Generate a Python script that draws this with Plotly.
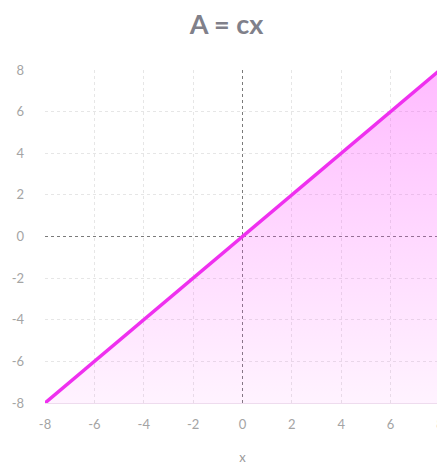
import plotly.graph_objects as go

# A = c * x, with c = 1
x_vals = [-8, 8]
a_vals = [-8, 8]
base_vals = [-8, -8]
tick_vals = [-8, -6, -4, -2, 0, 2, 4, 6, 8]
tick_text = ['-8', '-6', '-4', '-2', '0', '2', '4', '6', '8']

fig = go.Figure()

# dotted lines through the origin, drawn as traces so they sit under the curve
fig.add_trace(go.Scatter(x=[0, 0], y=x_vals, mode='lines', hoverinfo='skip',
                         line=dict(color='#7a7a7a', width=1, dash='dot'), showlegend=False))
fig.add_trace(go.Scatter(x=x_vals, y=[0, 0], mode='lines', hoverinfo='skip',
                         line=dict(color='#7a7a7a', width=1, dash='dot'), showlegend=False))

# invisible bottom edge so the shading stops at the axis floor
fig.add_trace(go.Scatter(x=x_vals, y=base_vals, mode='lines',
                         line=dict(width=0), hoverinfo='skip', showlegend=False))

fig.add_trace(go.Scatter(
    x=x_vals, y=a_vals, mode='lines', name='A',
    line=dict(color='#ef30ef', width=3.5),
    fill='tonexty',
    fillgradient=dict(type='vertical',
                      colorscale=[[0, 'rgba(255,80,255,0.07)'], [1, 'rgba(255,60,255,0.35)']]),
    showlegend=False,
))

# page body has an 8px margin, so the figure is shrunk by that much
fig.update_layout(
    width=437, height=459,
    margin=dict(l=37, r=5, t=62, b=64),
    title=dict(text='<b>A = cx</b>', x=0.5, xanchor='center',
               yref='container', y=0.963, yanchor='middle',
               font=dict(family='Lato', size=27, color='#80808a')),
    plot_bgcolor='white',
    paper_bgcolor='white',
    font=dict(family='Lato', color='#a4a4a4', size=13),
)

fig.update_xaxes(
    range=[-8, 8], tickvals=tick_vals, ticktext=tick_text, showgrid=True,
    gridcolor='#e6e6e6', griddash='dot', zeroline=False, showline=True,
    linecolor='#eedcee', ticks='', ticklabelstandoff=9, automargin=False,
    title=dict(text='x', standoff=22, font=dict(color='#9a9a9a', size=13)),
)
fig.update_yaxes(
    range=[-8, 8], tickvals=tick_vals, ticktext=tick_text, showgrid=True,
    gridcolor='#e6e6e6', griddash='dot', zeroline=False, showline=False,
    ticks='', ticklabelstandoff=20, automargin=False,
)

fig.write_html("out.html")
